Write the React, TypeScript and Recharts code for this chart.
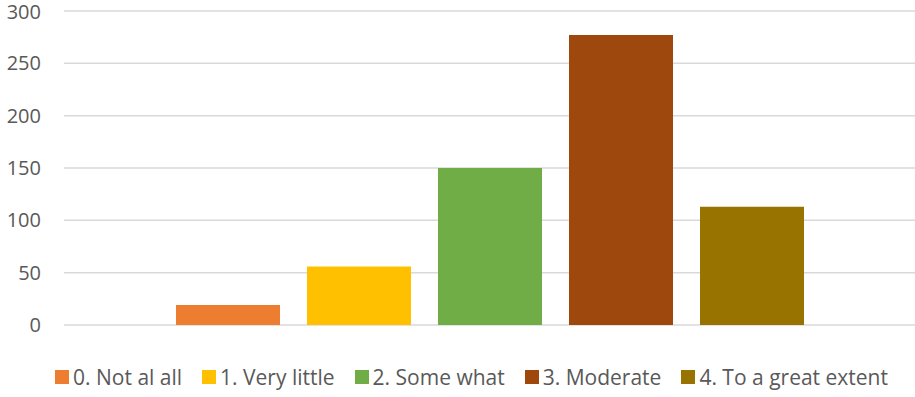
import { Bar, BarChart, CartesianGrid, Legend, XAxis, YAxis } from "recharts";

const categories = ["0. Not al all", "1. Very little", "2. Some what", "3. Moderate", "4. To a great extent"];
const counts = [19, 56, 150, 277, 113];
const colors = ["#ED7D31", "#FFC000", "#70AD47", "#9E480E", "#997300"];
const yTicks = [0, 50, 100, 150, 200, 250, 300];

const row: Record<string, string | number> = { group: "" };
categories.forEach((name, i) => {
    row[`s${i}`] = counts[i];
});
const data = [row];

const FONT = "'Open Sans', 'Noto Sans', sans-serif";

function LegendContent() {
    return (
        <div
            style={{
                display: "flex",
                justifyContent: "center",
                alignItems: "center",
                paddingLeft: 28,
                height: 30,
                fontFamily: FONT,
                fontSize: 21,
                color: "#595959",
                whiteSpace: "nowrap",
            }}
        >
            {categories.map((name, i) => (
                <div key={name} style={{ display: "flex", alignItems: "center", marginRight: i < categories.length - 1 ? 20 : 0 }}>
                    <span style={{ display: "inline-block", width: 14, height: 14, background: colors[i], marginRight: 4 }} />
                    <span>{name}</span>
                </div>
            ))}
        </div>
    );
}

export default function App() {
    return (
        <div style={{ position: "absolute", left: 0, top: 0, width: 915, height: 397, background: "#fff" }}>
            <BarChart
                width={915}
                height={397}
                data={data}
                margin={{ top: 11, right: 0, left: 0, bottom: 42 }}
                barSize={104}
                barGap={27}
            >
                <CartesianGrid vertical={false} stroke="#d9d9d9" strokeWidth={1.5} />
                <XAxis dataKey="group" hide />
                <YAxis
                    domain={[0, 300]}
                    ticks={yTicks}
                    width={64}
                    axisLine={false}
                    tickLine={false}
                    tickSize={0}
                    tickMargin={23}
                    tick={{ fill: "#595959", fontSize: 20, fontFamily: FONT }}
                />
                <Legend
                    verticalAlign="bottom"
                    content={() => <LegendContent />}
                    wrapperStyle={{ left: 0, width: 915, bottom: 5 }}
                />
                {categories.map((name, i) => (
                    <Bar key={name} dataKey={`s${i}`} name={name} fill={colors[i]} isAnimationActive={false} />
                ))}
            </BarChart>
        </div>
    );
}
